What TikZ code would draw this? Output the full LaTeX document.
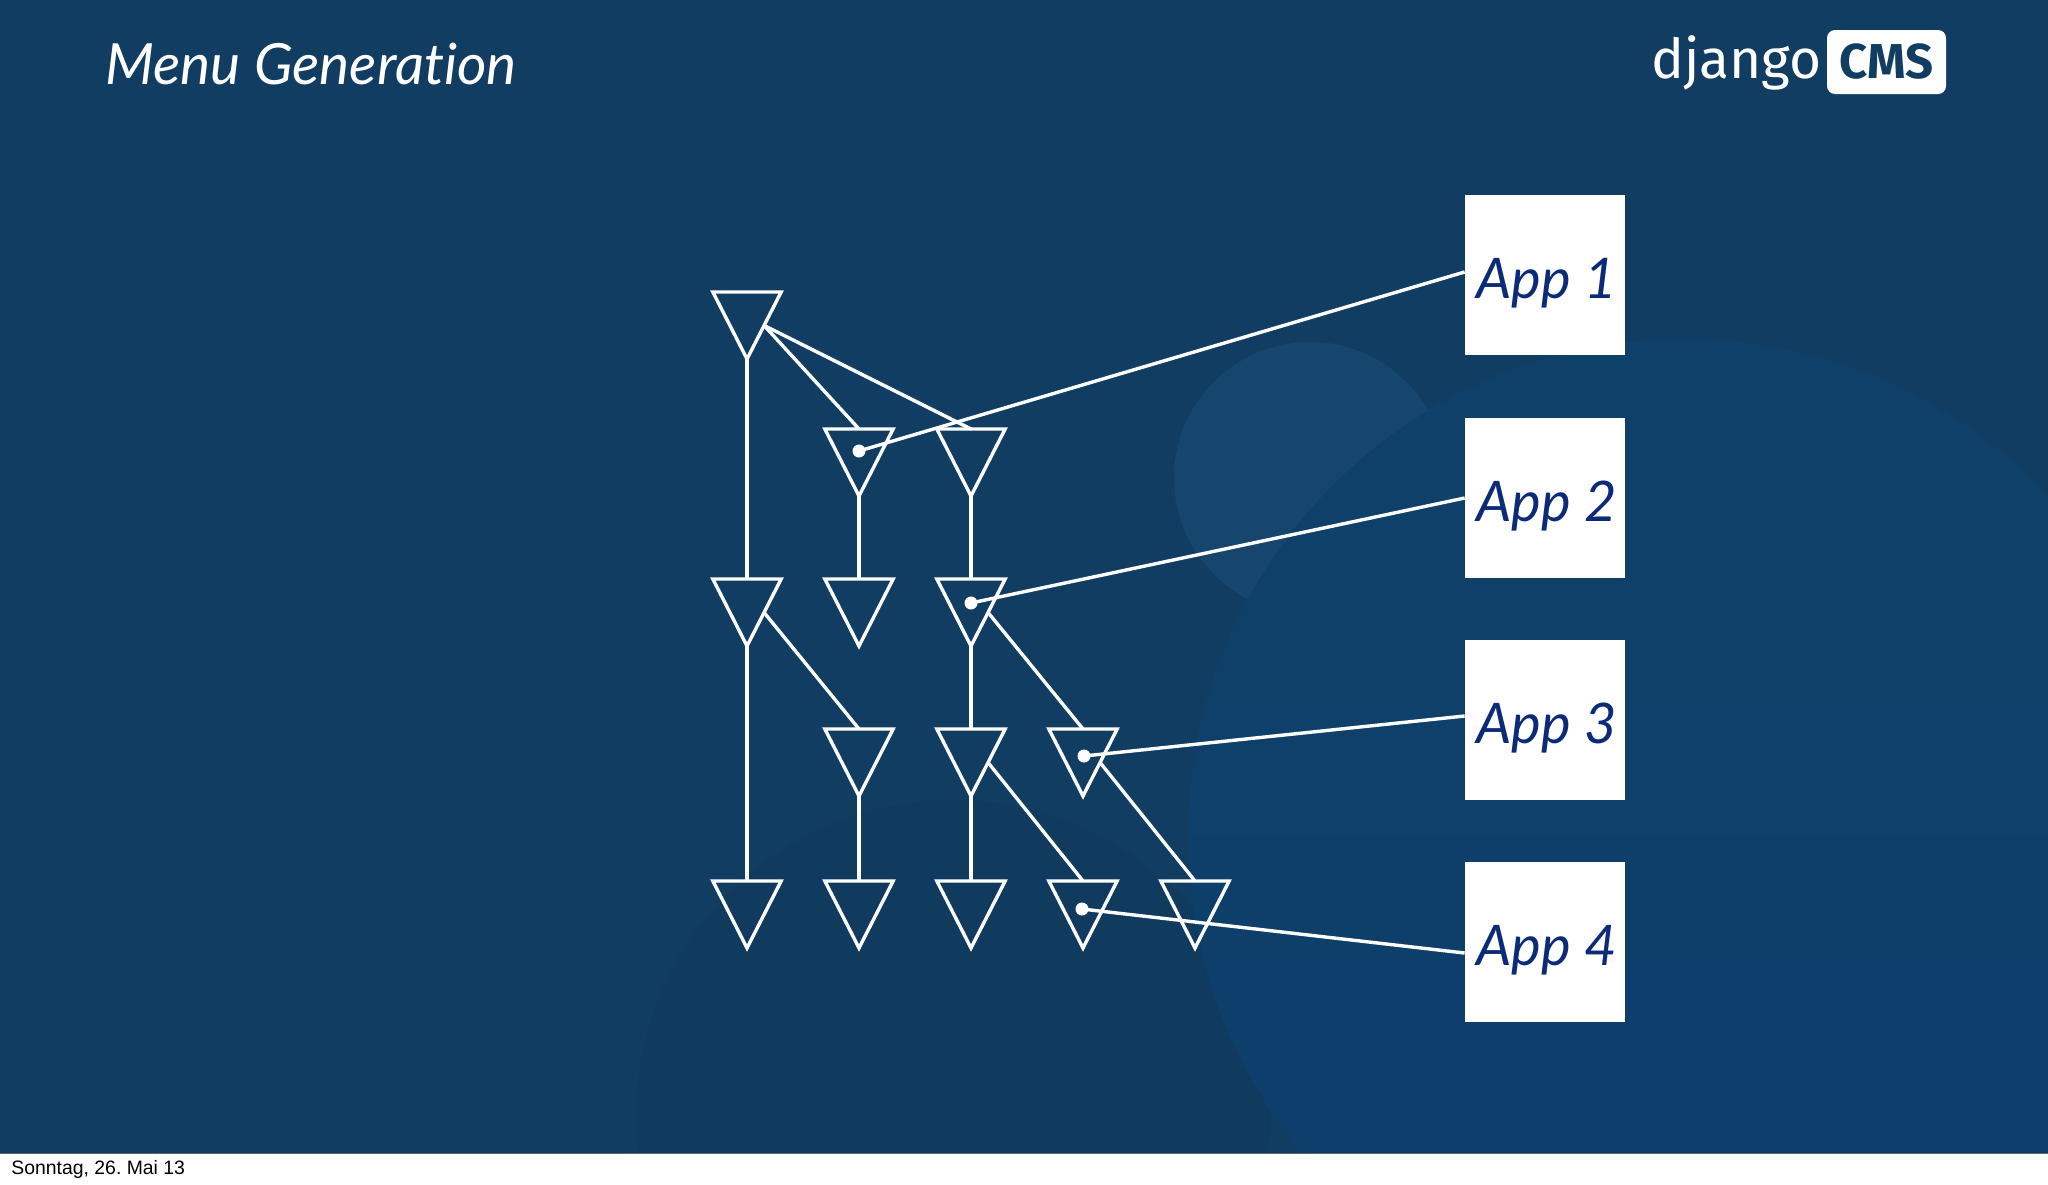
\documentclass[tikz,border=0pt]{standalone}
\usepackage{fontspec}
\usetikzlibrary{shapes.geometric,positioning}
\setmainfont{Lato}[Ligatures=CommonOff]
\newfontfamily\logofont{Fira Sans}
\newfontfamily\stampfont{Liberation Sans}
\definecolor{slidebg}{HTML}{113D63}
\definecolor{bigdisctop}{HTML}{0F4069}
\definecolor{bigdiscbot}{HTML}{0E3F6D}
\definecolor{paledisc}{HTML}{16466D}
\definecolor{darkdisc}{HTML}{103A5E}
\definecolor{appink}{HTML}{0B2A78}
\tikzset{
    menutri/.style={isosceles triangle,isosceles triangle apex angle=54,shape border rotate=270,
        draw=white,line width=1.7pt,minimum height=33.5pt,inner sep=0pt,outer sep=0pt,anchor=lower side},
    appbox/.style={fill=white,minimum width=80pt,minimum height=80pt,inner sep=0pt,text=appink,
        text height=23pt,text depth=0pt,font=\fontsize{28}{34}\selectfont\itshape},
    appdot/.style={circle,fill=white,minimum size=6.5pt,inner sep=0pt},
    link/.style={white,line width=1.7pt}
}
\begin{document}
\begin{tikzpicture}[x=0.5pt,y=-0.5pt]
    \useasboundingbox (0,0) rectangle (2048,1184);
    \begin{scope}
        \clip (0,0) rectangle (2048,1153);
        \fill[slidebg] (0,0) rectangle (2048,1153);
        \fill[darkdisc] (953,1117) circle [radius=317];
        \fill[paledisc] (1310,478) circle [radius=136];
        \shade[top color=bigdisctop,bottom color=bigdiscbot] (1685,836) circle [radius=497];
    \end{scope}
    \draw[gray!80!black,line width=0.5pt] (0,1153) -- (2048,1153);
    \node[anchor=base west,inner sep=0pt,text=white,font=\fontsize{28.4}{34}\selectfont\itshape] (title) at (105,84) {Menu Generation};
    \node[anchor=base west,inner sep=0pt,text=white,font=\logofont\fontsize{27.5}{34}\selectfont] (logotext) at (1651,78) {django};
    \node[fill=white,rounded corners=4pt,minimum width=59.5pt,minimum height=32pt,inner sep=0pt,
        text=slidebg,font=\logofont\bfseries\fontsize{24.5}{30}\selectfont] (logobox) at (1886.5,62) {CMS};
    \foreach \name/\x/\y in {a1/747/292,b2/859/429,b3/971/429,c1/747/579,c2/859/579,c3/971/579,
        d2/859/729,d3/971/729,d4/1083/729,e1/747/881,e2/859/881,e3/971/881,e4/1083/881,e5/1195/881}
        \node[menutri] (\name) at (\x,\y) {};
    \node[appbox] (app1) at (1545,275) {\hspace{1.5pt}App 1};
    \node[appbox] (app2) at (1545,498) {\hspace{1.5pt}App 2};
    \node[appbox] (app3) at (1545,720) {\hspace{1.5pt}App 3};
    \node[appbox] (app4) at (1545,942) {\hspace{1.5pt}App 4};
    \node[appdot] (dot1) at (859,451) {};
    \node[appdot] (dot2) at (971,603) {};
    \node[appdot] (dot3) at (1084,756) {};
    \node[appdot] (dot4) at (1082,909) {};
    \foreach \from/\to in {a1/c1,c1/e1,b2/c2,b3/c3,c3/d3,d3/e3,d2/e2}
        \draw[link] (\from.apex) -- (\to.lower side);
    \foreach \from/\to in {a1/b2,a1/b3,c1/d2,c3/d4,d3/e4,d4/e5}
        \draw[link] (\from.left side) -- (\to.lower side);
    \draw[link] ([yshift=1.5pt]app1.west) -- (dot1.center);
    \draw[link] (app2.west) -- (dot2.center);
    \draw[link] ([yshift=2pt]app3.west) -- (dot3.center);
    \draw[link] ([yshift=-5.5pt]app4.west) -- (dot4.center);
    \node[anchor=base west,inner sep=0pt,font=\stampfont\fontsize{9.7}{12}\selectfont\frenchspacing] (stamp) at (11,1174) {Sonntag, 26. Mai 13};
\end{tikzpicture}
\end{document}
